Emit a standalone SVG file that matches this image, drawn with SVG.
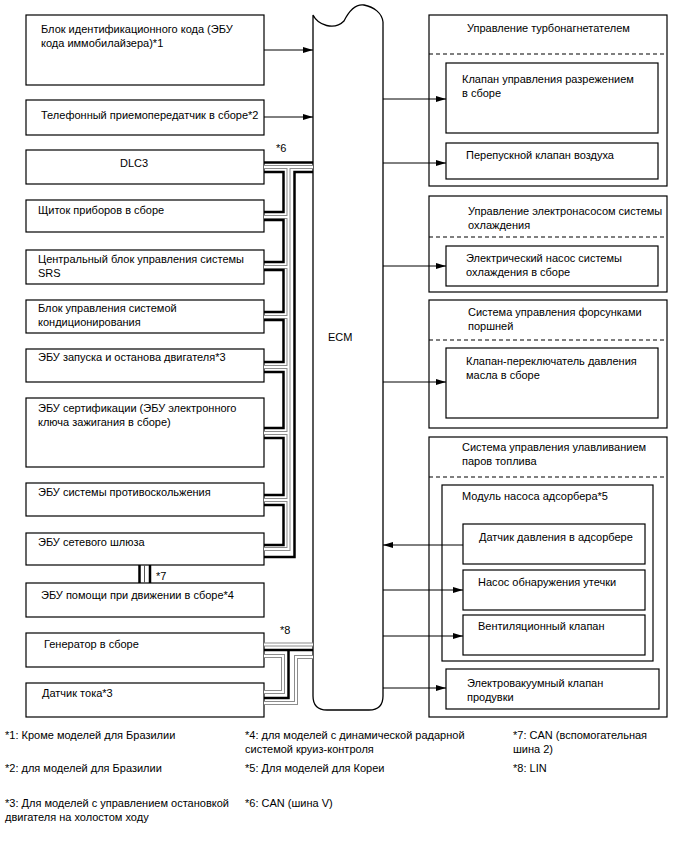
<svg xmlns="http://www.w3.org/2000/svg" width="688" height="852" viewBox="0 0 688 852">
<style>
text{font-family:"Liberation Sans",Arial,sans-serif;font-size:11px;fill:#000}
.box{fill:#fff;stroke:#000;stroke-width:1.2}
.dash{fill:none;stroke:#000;stroke-width:1.2;stroke-dasharray:4 3}
.arr{fill:none;stroke:#000;stroke-width:1;marker-end:url(#ah)}
.blk{fill:none;stroke:#000;stroke-width:2.5}
.gh{fill:none;stroke:#8c8c8c;stroke-width:4}
.gw{fill:none;stroke:#fff;stroke-width:2}
.thin{fill:none;stroke:#555;stroke-width:1}
</style>
<defs>
<marker id="ah" markerWidth="10" markerHeight="6" refX="10" refY="3" orient="auto" markerUnits="userSpaceOnUse">
<path d="M0,0 L10,3 L0,6 z" fill="#000"/>
</marker>
</defs>
<rect width="688" height="852" fill="#fff"/>

<g id="ecm">
<path d="M313,15 C318,25 334,31 344,21 C350,9 357,4 364,5 C374,7 382,13 383,22 L383,696 Q383,710 369,710 L327,710 Q313,710 313,696 Z" fill="#fff" stroke="#000" stroke-width="1.3"/>
<text x="328" y="341">ECM</text>
</g>

<g id="n1"><rect class="box" x="26" y="15" width="238" height="70"/><text x="41" y="33">Блок идентификационного кода (ЭБУ</text><text x="41" y="47">кода иммобилайзера)*1</text></g>
<g id="n2"><rect class="box" x="26" y="100" width="238" height="35"/><text x="41" y="119">Телефонный приемопередатчик в сборе*2</text></g>
<g id="n3"><rect class="box" x="26" y="150" width="238" height="34"/><text x="120" y="167">DLC3</text></g>
<g id="n4"><rect class="box" x="26" y="200" width="238" height="32"/><text x="38" y="214">Щиток приборов в сборе</text></g>
<g id="n5"><rect class="box" x="26" y="250" width="238" height="34"/><text x="38" y="263">Центральный блок управления системы</text><text x="38" y="277">SRS</text></g>
<g id="n6"><rect class="box" x="26" y="300" width="238" height="33"/><text x="38" y="312">Блок управления системой</text><text x="38" y="326">кондиционирования</text></g>
<g id="n7"><rect class="box" x="26" y="349" width="238" height="33"/><text x="38" y="361">ЭБУ запуска и останова двигателя*3</text></g>
<g id="n8"><rect class="box" x="26" y="398" width="238" height="69"/><text x="38" y="412">ЭБУ сертификации (ЭБУ электронного</text><text x="38" y="426">ключа зажигания в сборе)</text></g>
<g id="n9"><rect class="box" x="26" y="483" width="238" height="33"/><text x="38" y="496">ЭБУ системы противоскольжения</text></g>
<g id="n10"><rect class="box" x="26" y="533" width="238" height="32"/><text x="38" y="546">ЭБУ сетевого шлюза</text></g>
<g id="n11"><rect class="box" x="26" y="583" width="238" height="34"/><text x="41" y="599">ЭБУ помощи при движении в сборе*4</text></g>
<g id="n12"><rect class="box" x="26" y="633" width="238" height="34"/><text x="44" y="648">Генератор в сборе</text></g>
<g id="n13"><rect class="box" x="26" y="683" width="238" height="34"/><text x="42" y="697">Датчик тока*3</text></g>

<g id="g1">
<rect class="box" x="429" y="15" width="238" height="171"/>
<text x="467" y="32">Управление турбонагнетателем</text>
<line class="dash" x1="429" y1="54" x2="667" y2="54"/>
<g id="g1a"><rect class="box" x="446" y="63" width="212" height="70"/><text x="462" y="83">Клапан управления разрежением</text><text x="462" y="97">в сборе</text></g>
<g id="g1b"><rect class="box" x="446" y="143" width="212" height="36"/><text x="466" y="159">Перепускной клапан воздуха</text></g>
</g>
<g id="g2">
<rect class="box" x="429" y="196" width="238" height="96"/>
<text x="468" y="215">Управление электронасосом системы</text>
<text x="468" y="229">охлаждения</text>
<line class="dash" x1="429" y1="237" x2="667" y2="237"/>
<g id="g2a"><rect class="box" x="446" y="246" width="212" height="40"/><text x="466" y="262">Электрический насос системы</text><text x="466" y="276">охлаждения в сборе</text></g>
</g>
<g id="g3">
<rect class="box" x="429" y="300" width="238" height="128"/>
<text x="468" y="316">Система управления форсунками</text>
<text x="468" y="330">поршней</text>
<line class="dash" x1="429" y1="340" x2="667" y2="340"/>
<g id="g3a"><rect class="box" x="446" y="348" width="212" height="70"/><text x="466" y="365">Клапан-переключатель давления</text><text x="466" y="379">масла в сборе</text></g>
</g>
<g id="g4">
<rect class="box" x="429" y="437" width="238" height="280"/>
<text x="462" y="451">Система управления улавливанием</text>
<text x="462" y="465">паров топлива</text>
<line class="dash" x1="429" y1="477" x2="667" y2="477"/>
<g id="g4m"><rect class="box" x="442" y="485" width="211" height="176"/><text x="462" y="500">Модуль насоса адсорбера*5</text></g>
<g id="g4a"><rect class="box" x="463" y="524" width="182" height="40"/><text x="479" y="541">Датчик давления в адсорбере</text></g>
<g id="g4b"><rect class="box" x="463" y="570" width="182" height="40"/><text x="478" y="586">Насос обнаружения утечки</text></g>
<g id="g4c"><rect class="box" x="463" y="615" width="182" height="40"/><text x="478" y="630">Вентиляционный клапан</text></g>
<g id="g4d"><rect class="box" x="446" y="669" width="213" height="40"/><text x="467" y="687">Электровакуумный клапан</text><text x="467" y="701">продувки</text></g>
</g>

<g id="connectors">
<line class="arr" x1="264" y1="50" x2="313" y2="50"/>
<line class="arr" x1="264" y1="117" x2="313" y2="117"/>
<line class="arr" x1="383" y1="99" x2="446" y2="99"/>
<line class="arr" x1="383" y1="163" x2="446" y2="163"/>
<line class="arr" x1="383" y1="266" x2="446" y2="266"/>
<line class="arr" x1="383" y1="382" x2="446" y2="382"/>
<line class="arr" x1="463" y1="545" x2="383" y2="545"/>
<line class="arr" x1="383" y1="590" x2="463" y2="590"/>
<line class="arr" x1="383" y1="636" x2="463" y2="636"/>
<line class="arr" x1="383" y1="688" x2="446" y2="688"/>

<g id="can6">
<path class="gh" d="M264,167 H313 M288.5,167 V549 H264 M264,217 H288.5 M264,267 H288.5 M264,317 H288.5 M264,367 H288.5 M264,433 H288.5 M264,500 H288.5"/>
<path class="gw" d="M264,167 H313 M288.5,167 V549 H264 M264,217 H288.5 M264,267 H288.5 M264,317 H288.5 M264,367 H288.5 M264,433 H288.5 M264,500 H288.5"/>
<path class="blk" d="M264,162.5 H313"/>
<path class="blk" d="M313,172 H294.5 V557 H264"/>
<path class="blk" d="M264,172 H283.5 V212 H264 M264,220 H283.5 V262 H264 M264,270 H283.5 V312 H264 M264,320 H283.5 V362 H264 M264,372 H283.5 V428 H264 M264,438 H283.5 V495 H264 M264,505 H283.5 V545 H264"/>
<text x="276" y="152">*6</text>
</g>
<g id="can7">
<path class="blk" d="M139.5,565 V583 M150,565 V583"/>
<path class="thin" d="M144.5,565 V583"/>
<text x="156" y="580">*7</text>
</g>
<g id="lin8">
<path class="gh" d="M264,644.5 H313 M264,656 H283 V692 H264 M313,657 H296 V703 H264"/>
<path class="gw" d="M264,644.5 H313 M264,656 H283 V692 H264 M313,657 H296 V703 H264"/>
<path class="blk" d="M264,650 H313 M288.5,650 V698 H264"/>
<text x="280" y="634">*8</text>
</g>
</g>

<g id="notes">
<text x="5" y="739">*1: Кроме моделей для Бразилии</text>
<text x="5" y="772">*2: для моделей для Бразилии</text>
<text x="5" y="807">*3: Для моделей с управлением остановкой</text>
<text x="5" y="821">двигателя на холостом ходу</text>
<text x="245" y="739">*4: для моделей с динамической радарной</text>
<text x="245" y="753">системой круиз-контроля</text>
<text x="245" y="772">*5: Для моделей для Кореи</text>
<text x="245" y="807">*6: CAN (шина V)</text>
<text x="513" y="739">*7: CAN (вспомогательная</text>
<text x="513" y="753">шина 2)</text>
<text x="513" y="772">*8: LIN</text>
</g>
</svg>
